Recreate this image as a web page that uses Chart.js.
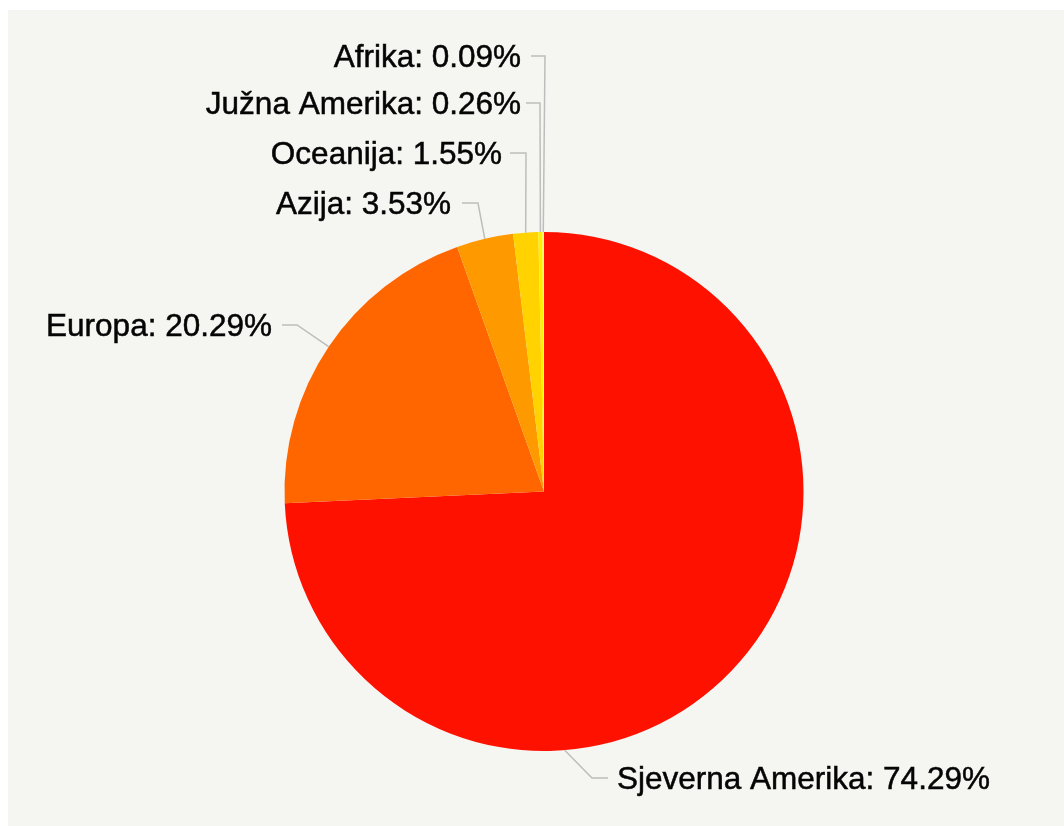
<!DOCTYPE html>
<html>
<head>
<meta charset="utf-8">
<script src="https://cdn.jsdelivr.net/npm/chart.js@4"></script>
<style>
  html, body { margin: 0; padding: 0; background: #ffffff; }
  #bg { position: absolute; left: 8px; top: 10px; right: 0; bottom: 0; background: #f5f5f1; }
  #pie { position: absolute; left: 0; top: 0; }
</style>
</head>
<body>
<div id="bg"></div>
<canvas id="pie" width="1064" height="826"></canvas>
<script>
const regions = ["Sjeverna Amerika", "Europa", "Azija", "Oceanija", "Južna Amerika", "Afrika"];
const shares = [74.29, 20.29, 3.53, 1.55, 0.26, 0.09];
const slice_colors = ["#ff1100", "#ff6600", "#ff9900", "#ffd200", "#fff000", "#ffff66"];

// where each label sits and how its leader line bends
const label_layout = [
  { frac: 0.656, elbowX: 592, y: 778, lineEnd: 608, textX: 617, align: "left" },
  { frac: 0.5, elbowX: 297, y: 325, lineEnd: 282, textX: 272, align: "right" },
  { frac: 0.5, elbowX: 478, y: 203, lineEnd: 462, textX: 451, align: "right" },
  { frac: 0.5, elbowX: 526, y: 153, lineEnd: 510, textX: 502, align: "right" },
  { frac: 0.5, elbowX: 540, y: 103, lineEnd: 526, textX: 521, align: "right" },
  { frac: 0.5, elbowX: 545, y: 56, lineEnd: 531, textX: 521, align: "right" }
];

const leaderLabels = {
  id: "leaderLabels",
  afterDatasetsDraw(chart) {
    const ctx = chart.ctx;
    const arcs = chart.getDatasetMeta(0).data;
    ctx.save();
    arcs.forEach((arc, i) => {
      const p = arc.getProps(["x", "y", "startAngle", "endAngle", "outerRadius"], true);
      const lay = label_layout[i];
      const a = p.startAngle + lay.frac * (p.endAngle - p.startAngle);
      const sx = p.x + Math.cos(a) * p.outerRadius;
      const sy = p.y + Math.sin(a) * p.outerRadius;

      ctx.strokeStyle = "#bdbdbd";
      ctx.lineWidth = 1.5;
      ctx.beginPath();
      ctx.moveTo(sx, sy);
      ctx.lineTo(lay.elbowX, lay.y);
      ctx.lineTo(lay.lineEnd, lay.y);
      ctx.stroke();

      const txt = regions[i] + ": " + shares[i].toFixed(2) + "%";
      ctx.font = "31.5px 'Liberation Sans', Arial, sans-serif";
      ctx.textAlign = lay.align;
      ctx.textBaseline = "alphabetic";
      ctx.fillStyle = "#050505";
      ctx.fillText(txt, lay.textX, lay.y + 11);
      ctx.strokeStyle = "#050505";
      ctx.lineWidth = 0.5;
      ctx.strokeText(txt, lay.textX, lay.y + 11);
    });
    ctx.restore();
  }
};

new Chart(document.getElementById("pie"), {
  type: "pie",
  data: {
    labels: regions,
    datasets: [{
      data: shares,
      backgroundColor: slice_colors,
      borderWidth: 0,
      hoverOffset: 0
    }]
  },
  options: {
    responsive: false,
    devicePixelRatio: 1,
    animation: false,
    layout: {
      padding: { top: 232, bottom: 75, left: 200, right: 176 }
    },
    plugins: {
      legend: { display: false },
      tooltip: { enabled: false }
    }
  },
  plugins: [leaderLabels]
});
</script>
</body>
</html>
